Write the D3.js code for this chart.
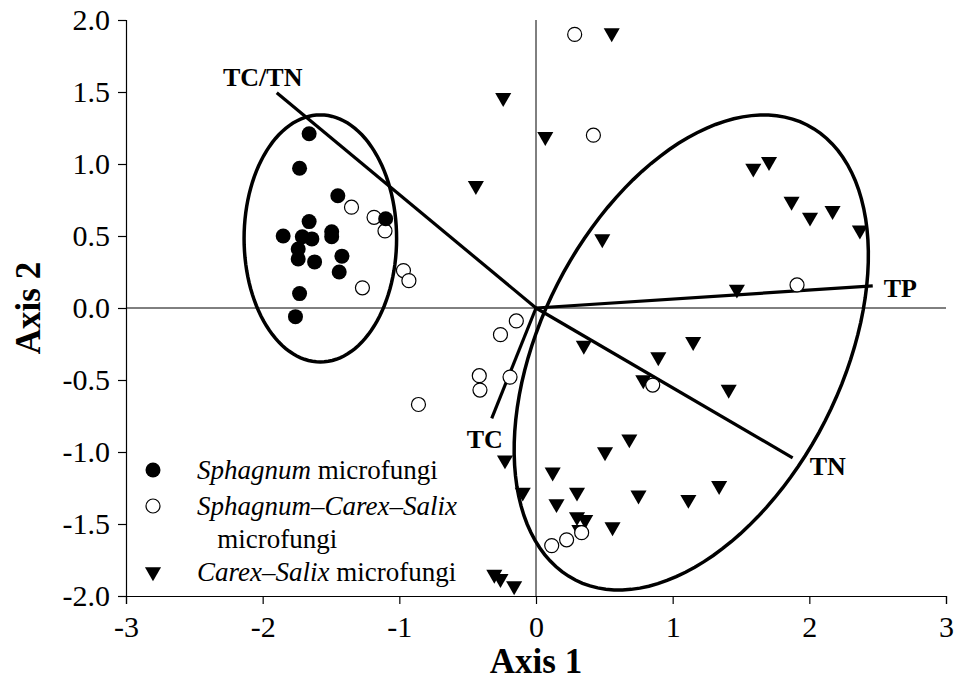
<!DOCTYPE html>
<html>
<head>
<meta charset="utf-8">
<script src="https://cdn.jsdelivr.net/npm/d3@7"></script>
<style>
  body { margin: 0; background: #fff; }
  svg { display: block; }
  svg text { font-family: "Liberation Serif", "Times New Roman", serif; fill: #000; }
</style>
</head>
<body>
<svg id="chart"></svg>
<script>
// sample scores on the two ordination axes
let sphagnum = [
  [-1.66, 1.21], [-1.73, 0.97], [-1.45, 0.78], [-1.10, 0.62], [-1.66, 0.60],
  [-1.85, 0.50], [-1.71, 0.495], [-1.64, 0.48], [-1.495, 0.53], [-1.495, 0.495],
  [-1.74, 0.41], [-1.74, 0.34], [-1.62, 0.32], [-1.42, 0.36], [-1.44, 0.25],
  [-1.73, 0.10], [-1.76, -0.06]
];
let mixed = [
  [-1.35, 0.70], [-1.185, 0.63], [-1.105, 0.535], [-0.97, 0.26], [-0.93, 0.19],
  [-1.27, 0.14], [-0.144, -0.09], [-0.26, -0.185], [-0.415, -0.47], [-0.41, -0.57],
  [-0.19, -0.48], [-0.86, -0.67], [0.283, 1.90], [0.42, 1.20], [1.91, 0.16],
  [0.854, -0.535], [0.334, -1.56], [0.224, -1.61], [0.115, -1.65]
];
let carexSalix = [
  [0.554, 1.91], [-0.24, 1.46], [0.068, 1.19], [-0.44, 0.85], [1.59, 0.97],
  [1.705, 1.016], [1.87, 0.74], [2.005, 0.63], [2.17, 0.676], [2.37, 0.54],
  [0.485, 0.48], [1.47, 0.13], [0.35, -0.26], [1.15, -0.234], [0.895, -0.34],
  [0.785, -0.50], [1.41, -0.565], [0.683, -0.91], [0.505, -1.00], [0.122, -1.14],
  [1.34, -1.234], [-0.227, -1.056], [-0.097, -1.28], [0.30, -1.28], [0.75, -1.30],
  [1.115, -1.33], [0.15, -1.36], [0.30, -1.45], [0.36, -1.47], [0.56, -1.52],
  [0.317, -1.54], [-0.305, -1.85], [-0.26, -1.88], [-0.16, -1.93]
];

// environmental vectors (biplot arrows, no heads)
let vectors = [
  { name: "TC/TN", x: -1.897, y: 1.495 },
  { name: "TP", x: 2.464, y: 0.153 },
  { name: "TN", x: 1.878, y: -1.04 },
  { name: "TC", x: -0.324, y: -0.766 }
];

// group ellipses: centre and two conjugate semi-axis vectors (axis units)
let ellipses = [
  { cx: -1.578, cy: 0.483, ux: 0.558, uy: 0, vx: 0, vy: 0.858 },
  { cx: 1.136, cy: -0.309, ux: 0.848, uy: 1.580, vx: -0.980, vy: 0.474 }
];

let xTicks = [-3, -2, -1, 0, 1, 2, 3];
let yTicks = [-2.0, -1.5, -1.0, -0.5, 0.0, 0.5, 1.0, 1.5, 2.0];

let w = 956, h = 680;
let svg = d3.select("#chart").attr("width", w).attr("height", h);

let x = d3.scaleLinear().domain([-3, 3]).range([126, 946]);
let y = d3.scaleLinear().domain([-2, 2]).range([596, 20]);

// axes
let xAxis = svg.append("g")
    .attr("transform", `translate(0,${y(-2)})`)
    .call(d3.axisBottom(x).tickValues(xTicks).tickSize(8).tickPadding(12)
      .tickFormat(d => String(d)));
let yAxis = svg.append("g")
    .attr("transform", `translate(${x(-3)},0)`)
    .call(d3.axisLeft(y).tickValues(yTicks).tickSize(8).tickPadding(8)
      .tickFormat(d => d.toFixed(1)));

[xAxis, yAxis].forEach(g => {
  g.attr("font-family", null);
  g.select(".domain").attr("stroke", "#000").attr("stroke-width", 1.2);
  g.selectAll(".tick line").attr("stroke", "#000").attr("stroke-width", 1.2);
  g.selectAll(".tick text").attr("fill", "#000").style("font-size", "30px");
});

// zero lines
svg.append("line")
    .attr("x1", x(0)).attr("x2", x(0)).attr("y1", y(2)).attr("y2", y(-2))
    .attr("stroke", "#000").attr("stroke-width", 1);
svg.append("line")
    .attr("x1", x(-3)).attr("x2", x(3)).attr("y1", y(0)).attr("y2", y(0))
    .attr("stroke", "#000").attr("stroke-width", 1);

// axis titles
svg.append("text")
    .attr("x", x(0)).attr("y", 673)
    .attr("text-anchor", "middle")
    .style("font-size", "35px").style("font-weight", "bold")
    .text("Axis 1");
svg.append("text")
    .attr("transform", `translate(40,${y(0)}) rotate(-90)`)
    .attr("text-anchor", "middle")
    .style("font-size", "35px").style("font-weight", "bold")
    .text("Axis 2");

// ellipses
let line = d3.line().x(d => x(d[0])).y(d => y(d[1]));
ellipses.forEach(e => {
  let pts = d3.range(0, 361, 3).map(a => {
    let t = a * Math.PI / 180;
    return [e.cx + e.ux * Math.cos(t) + e.vx * Math.sin(t),
            e.cy + e.uy * Math.cos(t) + e.vy * Math.sin(t)];
  });
  svg.append("path")
      .attr("d", line(pts) + "Z")
      .attr("fill", "none")
      .attr("stroke", "#000")
      .attr("stroke-width", 3.5);
});

// vectors
svg.selectAll(".vec")
    .data(vectors)
    .enter()
    .append("line")
    .attr("x1", x(0)).attr("y1", y(0))
    .attr("x2", d => x(d.x)).attr("y2", d => y(d.y))
    .attr("stroke", "#000")
    .attr("stroke-width", 3.2);

let labelPos = {
  "TC/TN": { dx: -14, dy: -7, anchor: "middle" },
  "TP": { dx: 11, dy: 11, anchor: "start" },
  "TN": { dx: 17, dy: 17, anchor: "start" },
  "TC": { dx: -7, dy: 30, anchor: "middle" }
};
svg.selectAll(".vlab")
    .data(vectors)
    .enter()
    .append("text")
    .attr("x", d => x(d.x) + labelPos[d.name].dx)
    .attr("y", d => y(d.y) + labelPos[d.name].dy)
    .attr("text-anchor", d => labelPos[d.name].anchor)
    .style("font-size", "26px").style("font-weight", "bold")
    .text(d => d.name);

// points
let tri = d3.symbol().type(d3.symbolTriangle).size(112);

svg.append("g").selectAll("path")
    .data(carexSalix)
    .enter()
    .append("path")
    .attr("d", tri)
    .attr("transform", d => `translate(${x(d[0])},${y(d[1])}) rotate(180)`)
    .attr("fill", "#000");

svg.append("g").selectAll("circle")
    .data(mixed)
    .enter()
    .append("circle")
    .attr("cx", d => x(d[0])).attr("cy", d => y(d[1]))
    .attr("r", 7)
    .attr("fill", "#fff")
    .attr("stroke", "#000")
    .attr("stroke-width", 1.2);

svg.append("g").selectAll("circle")
    .data(sphagnum)
    .enter()
    .append("circle")
    .attr("cx", d => x(d[0])).attr("cy", d => y(d[1]))
    .attr("r", 7.5)
    .attr("fill", "#000");

// legend
let legend = svg.append("g").style("font-size", "27px");
let legendRows = [
  { y: 470, sym: "filled", parts: [["Sphagnum", true], [" microfungi", false]] },
  { y: 506, sym: "open", parts: [["Sphagnum–Carex–Salix", true]] },
  { y: 539, sym: null, parts: [["   microfungi", false]] },
  { y: 572, sym: "tri", parts: [["Carex–Salix", true], [" microfungi", false]] }
];
legendRows.forEach(r => {
  if (r.sym === "filled") {
    legend.append("circle").attr("cx", 153).attr("cy", r.y).attr("r", 7.5).attr("fill", "#000");
  } else if (r.sym === "open") {
    legend.append("circle").attr("cx", 153).attr("cy", r.y).attr("r", 7)
        .attr("fill", "#fff").attr("stroke", "#000").attr("stroke-width", 1.2);
  } else if (r.sym === "tri") {
    legend.append("path").attr("d", tri)
        .attr("transform", `translate(153,${r.y}) rotate(180)`).attr("fill", "#000");
  }
  let t = legend.append("text")
      .attr("x", 197).attr("y", r.y + 9)
      .style("white-space", "pre");
  r.parts.forEach(p => {
    t.append("tspan").style("font-style", p[1] ? "italic" : "normal").text(p[0]);
  });
});
</script>
</body>
</html>
